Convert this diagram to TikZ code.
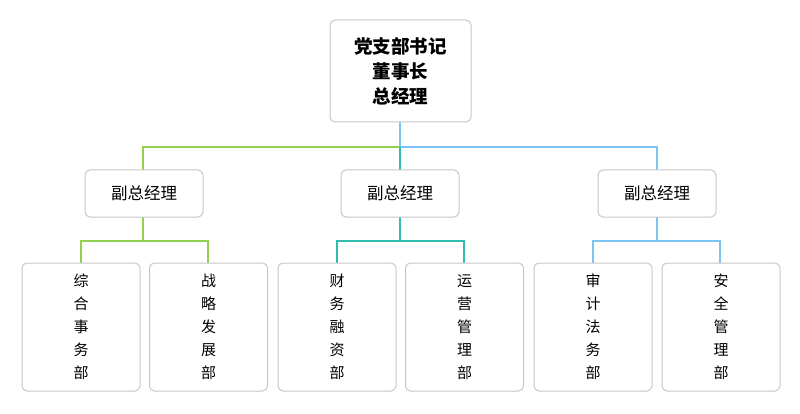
\documentclass[tikz,border=0pt]{standalone}
\usepackage{fontspec}
\setmainfont{Noto Sans CJK SC}
\begin{document}
\begin{tikzpicture}[x=1pt,y=-1pt,
 box/.style={draw=black!22,line width=1pt,rounded corners=5pt,fill=white,inner sep=0pt},
 ln/.style={line width=2.2pt},
 cg/.style={ln,draw=green1}, ct/.style={ln,draw=teal1}, cb/.style={ln,draw=blue1}]
\definecolor{green1}{HTML}{92D050}
\definecolor{teal1}{HTML}{2EBCB0}
\definecolor{blue1}{HTML}{7CC4F2}
\useasboundingbox (0,0) rectangle (800,414);
% connectors first
\coordinate (j) at (400,147);
\coordinate (jl) at (143,147);
\coordinate (jr) at (657,147);
\draw[cb] (400,122) -- (j);
\draw[cg] (j) -- (jl) -- (143,170);
\draw[cb] (j) -- (jr) -- (657,170);
\draw[ct] (j) -- (400,170);
\draw[cg] (143,217) -- (143,241) (81,263) -- (81,241) -- (208,241) -- (208,263);
\draw[ct] (400,217) -- (400,241) (337,263) -- (337,241) -- (464,241) -- (464,263);
\draw[cb] (657,217) -- (657,241) (593,263) -- (593,241) -- (720,241) -- (720,263);
% top
\node[box,minimum width=141pt,minimum height=102pt,align=center,font=\bfseries\fontsize{18.5}{25}\selectfont] (top) at (400.5,71) {党支部书记\\董事长\\总经理};
\foreach \n/\x in {m1/144,m2/400,m3/657}
 \node[box,minimum width=118pt,minimum height=47pt,font=\fontsize{16.5}{20}\selectfont] (\n) at (\x,193.5) {副总经理};
\foreach \n/\x/\t in {b1/81/综\\合\\事\\务\\部, b2/208.5/战\\略\\发\\展\\部, b3/337/财\\务\\融\\资\\部, b4/464.5/运\\营\\管\\理\\部, b5/593/审\\计\\法\\务\\部, b6/721/安\\全\\管\\理\\部}
 \node[box,minimum width=118pt,minimum height=128pt,align=center,font=\fontsize{15}{23}\selectfont] (\n) at (\x,327) {\t};
\end{tikzpicture}
\end{document}
